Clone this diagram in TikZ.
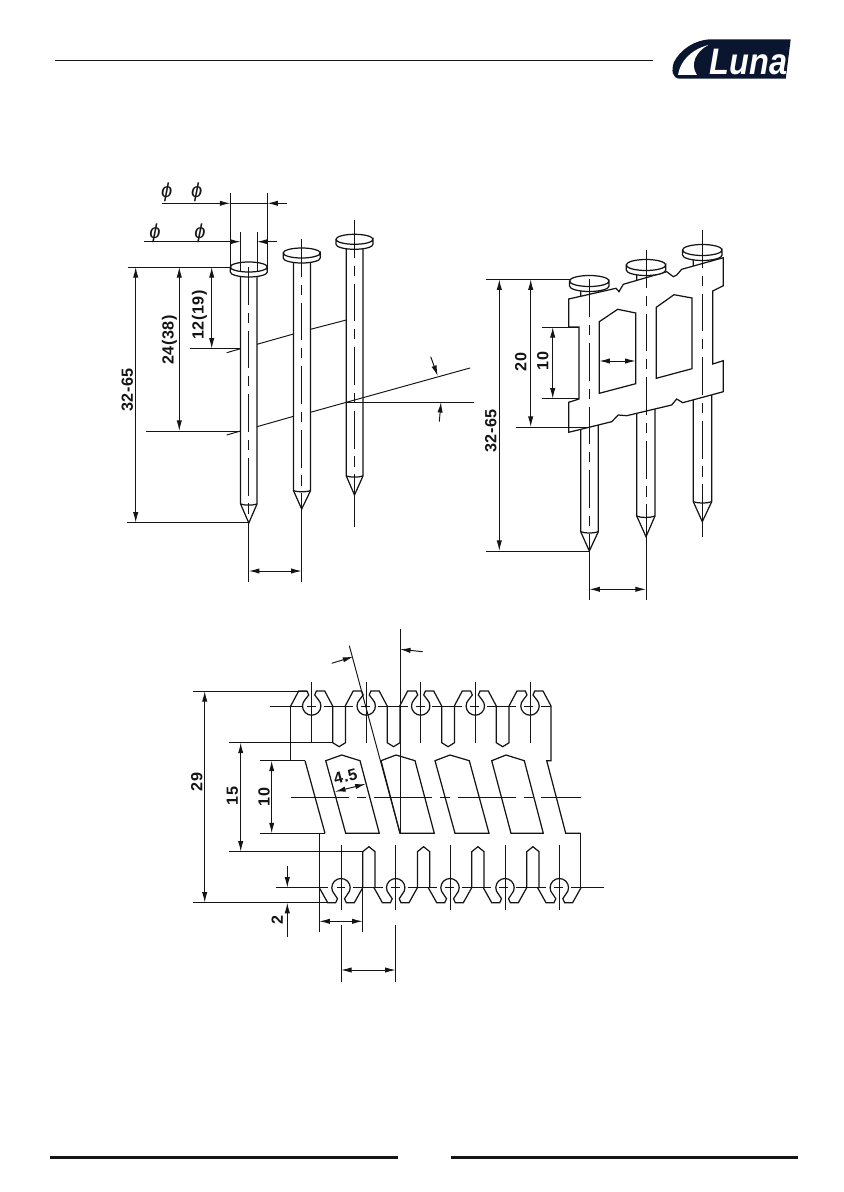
\documentclass[tikz,border=0pt]{standalone}
\usepackage{fontspec}
\usepackage{tikz}
\usetikzlibrary{arrows.meta}
\setmainfont{Liberation Sans}
\newfontfamily\sizefont[LetterSpace=4]{Liberation Sans}
\definecolor{lunanavy}{HTML}{0A1530}
\definecolor{ink}{HTML}{141414}
\tikzset{
  part/.style={draw=ink,line width=0.7pt,line join=miter},
  thinline/.style={draw=ink,line width=0.55pt},
  axis/.style={draw=ink,line width=0.55pt,dash pattern=on 21.5pt off 4.5pt on 5.7pt off 4.5pt},
  holeaxis/.style={draw=ink,line width=0.55pt,dash pattern=on 5.1pt off 4.5pt on 16.8pt off 4.5pt},
  dimline/.style={draw=ink,line width=0.55pt,>={Latex[length=6pt,width=3pt]}},
  sizelabel/.style={font=\sizefont\bfseries\fontsize{9.2}{10}\selectfont,text=ink,inner sep=0pt,rotate=90},
  dia/.style={font=\itshape\fontsize{11.5}{12}\selectfont,text=ink,inner sep=0pt}
}
\begin{document}
\begin{tikzpicture}[x=0.02cm,y=-0.02cm]
        \useasboundingbox (0,0) rectangle (843,1192);

        % header, footer, logo
        \draw[ink,line width=0.5pt] (55,60) -- (652.7,60);
        \fill[ink] (50,1155.6) rectangle (397.5,1159);
        \fill[ink] (450.7,1155.6) rectangle (798,1159);
        \fill[lunanavy] (790.7,39.3) -- (785.7,78.7) -- (680,78.7) .. controls (672,78.7) and (671,70) .. (674,62) .. controls (680,50) and (695,39.3) .. (712,39.3) -- cycle;
        \fill[white] (708.3,45) .. controls (690,50) and (680,62) .. (678,75) -- (697,75) .. controls (690,65) and (695,52) .. (708.3,45) -- cycle;
        \node [font=\bfseries\itshape\fontsize{21}{21}\selectfont,text=white,inner sep=0pt,xscale=0.88] (luna) at (748.5,62) {Luna};

        % left nails
        \draw[part] (240.6,272) -- (240.6,504) -- (248.8,523) -- (257,504) -- (257,272);
        \draw[part] (240.6,504) .. controls (245,505.5) and (252.6,505.5) .. (257,504);
        \draw[part,fill=white] (230.3,267) -- ++(0,5) arc[start angle=180,end angle=0,x radius=18.5,y radius=5] -- ++(0,-5) arc[start angle=0,end angle=180,x radius=18.5,y radius=5] arc[start angle=180,end angle=360,x radius=18.5,y radius=5];
        \draw[axis] (248.8,267) -- (248.8,523);
        \draw[part] (293.5,258) -- (293.5,490.7) -- (301.7,509) -- (310.5,490.7) -- (310.5,258);
        \draw[part] (293.5,490.7) .. controls (298,492.2) and (306,492.2) .. (310.5,490.7);
        \draw[part,fill=white] (283.2,253) -- ++(0,5) arc[start angle=180,end angle=0,x radius=18.5,y radius=5] -- ++(0,-5) arc[start angle=0,end angle=180,x radius=18.5,y radius=5] arc[start angle=180,end angle=360,x radius=18.5,y radius=5];
        \draw[axis] (301.7,239) -- (301.7,509);
        \draw[part] (346.3,244) -- (346.3,476) -- (354.5,495) -- (363,476) -- (363,244);
        \draw[part] (346.3,476) .. controls (351,477.5) and (358,477.5) .. (363,476);
        \draw[part,fill=white] (336,239.3) -- ++(0,5) arc[start angle=180,end angle=0,x radius=18.5,y radius=5] -- ++(0,-5) arc[start angle=0,end angle=180,x radius=18.5,y radius=5] arc[start angle=180,end angle=360,x radius=18.5,y radius=5];
        \draw[axis] (354.5,220) -- (354.5,495);

        % left nails, slanted rows
        \draw[thinline] (226.7,352.7) -- (240.6,348.7);
        \draw[thinline] (257,344.3) -- (293.5,334);
        \draw[thinline] (310.5,329.3) -- (346.3,320);
        \draw[thinline] (226.7,435) -- (240.6,431);
        \draw[thinline] (257,426.7) -- (293.5,416.3);
        \draw[thinline] (310.5,412.3) -- (346.3,402.3) -- (470,368);
        \draw[thinline] (346.3,402) -- (474,402);

        % left nails, sizes
        \draw[thinline] (230.3,193.3) -- (230.3,267);
        \draw[thinline] (267.3,193.3) -- (267.3,267);
        \draw[thinline] (240.6,232) -- (240.6,272);
        \draw[thinline] (257,232) -- (257,272);
        \draw[dimline,->] (162.3,203.3) -- (230.3,203.3);
        \draw[dimline,->] (287.3,203.3) -- (267.3,203.3);
        \draw[dimline] (230.3,203.3) -- (267.3,203.3);
        \draw[dimline,->] (144.3,241.7) -- (240.6,241.7);
        \draw[dimline,->] (277.3,241.7) -- (257,241.7);
        \node [dia] (d1) at (166.7,192.7) {ϕ};
        \node [dia] (d2) at (196.7,192.7) {ϕ};
        \node [dia] (d3) at (155,233.3) {ϕ};
        \node [dia] (d4) at (200,233.3) {ϕ};
        \draw[thinline] (127.7,267) -- (230.3,267);
        \draw[thinline] (126.7,522.7) -- (248.8,522.7);
        \draw[thinline] (146,431) -- (240.6,431);
        \draw[thinline] (190,348.7) -- (240.6,348.7);
        \draw[dimline,<->] (135.7,267) -- (135.7,522.7);
        \draw[dimline,<->] (179.3,267) -- (179.3,431);
        \draw[dimline,<->] (211.7,267) -- (211.7,348.7);
        \node [sizelabel] (l3265) at (127.3,390) {32-65};
        \node [sizelabel] (l2438) at (169.5,340) {24(38)};
        \node [sizelabel] (l1219) at (199.5,315) {12(19)};
        \draw[thinline] (248.8,523) -- (248.8,581.7);
        \draw[thinline] (301.7,509) -- (301.7,581.7);
        \draw[thinline] (354.5,495) -- (354.5,526.7);
        \draw[dimline,<->] (248.8,571) -- (301.7,571);
        \draw[dimline,->] (430.7,356.7) -- (437.7,376);
        \draw[dimline,->] (439.3,421.7) -- (441,402);

        % right nails
        \draw[part] (580.7,286) -- (580.7,531.7) -- (589.3,551) -- (598.3,531.7) -- (598.3,286);
        \draw[part] (580.7,531.7) .. controls (585,533.5) and (594,533.5) .. (598.3,531.7);
        \draw[part] (636.7,270) -- (636.7,516) -- (646,536.7) -- (655,516) -- (655,270);
        \draw[part] (636.7,516) .. controls (641,518) and (650,518) .. (655,516);
        \draw[part] (693.3,255) -- (693.3,501.7) -- (702.3,521.7) -- (711.7,501.7) -- (711.7,255);
        \draw[part] (693.3,501.7) .. controls (698,503.5) and (707,503.5) .. (711.7,501.7);

        % right nails, strip
        \draw[part,fill=white] (568.7,299) -- (616,288.3) -- (619,291.7) -- (623.3,284.3) -- (666.7,271.7) -- (673.3,276.7) -- (676.7,275) -- (681.7,269.3) -- (723.3,257.7) -- (723.3,285.7) -- (712.7,291) -- (712.7,364) -- (723.3,360.7) -- (723.3,391.7) -- (682.7,402.7) -- (676.7,399) -- (671.7,405) -- (626.7,415.7) -- (618.3,415) -- (611.7,421.7) -- (568.7,432.3) -- (568.7,402.3) -- (579,399) -- (579,327) -- (568.7,327) -- cycle;
        \draw[part] (599.3,393.3) -- (599.3,321.7) -- (617.7,309.3) -- (635.7,313) -- (635.7,383.7) -- cycle;
        \draw[part] (656.3,378.3) -- (656.3,307.3) -- (674,294.7) -- (692,298) -- (692,368.7) -- cycle;
        \draw[part,fill=white] (569.5,281) -- ++(0,5) arc[start angle=180,end angle=0,x radius=19.8,y radius=5.5] -- ++(0,-5) arc[start angle=0,end angle=180,x radius=19.8,y radius=5.5] arc[start angle=180,end angle=360,x radius=19.8,y radius=5.5];
        \draw[part,fill=white] (626.2,265) -- ++(0,5) arc[start angle=180,end angle=0,x radius=19.8,y radius=5.5] -- ++(0,-5) arc[start angle=0,end angle=180,x radius=19.8,y radius=5.5] arc[start angle=180,end angle=360,x radius=19.8,y radius=5.5];
        \draw[part,fill=white] (682.5,250) -- ++(0,5) arc[start angle=180,end angle=0,x radius=19.8,y radius=5.5] -- ++(0,-5) arc[start angle=0,end angle=180,x radius=19.8,y radius=5.5] arc[start angle=180,end angle=360,x radius=19.8,y radius=5.5];
        \draw[axis] (589.3,279.3) -- (589.3,551);
        \draw[axis] (646,250) -- (646,536.7);
        \draw[axis] (702.3,230) -- (702.3,521.7);

        % right nails, sizes
        \draw[thinline] (485.7,279.3) -- (569.5,279.3);
        \draw[thinline] (486,551) -- (589.3,551);
        \draw[thinline] (516,427) -- (589.3,427);
        \draw[thinline] (542.3,327) -- (579,327);
        \draw[thinline] (542.3,398.7) -- (579,398.7);
        \draw[dimline,<->] (499.3,279.3) -- (499.3,551);
        \draw[dimline,<->] (530.7,279.3) -- (530.7,427);
        \draw[dimline,<->] (552.7,327) -- (552.7,398.7);
        \draw[dimline,<->] (599.3,361) -- (635.7,361);
        \node [sizelabel] (r3265) at (490.7,431) {32-65};
        \node [sizelabel] (r20) at (520.7,361.7) {20};
        \node [sizelabel] (r10) at (542.7,361) {10};
        \draw[thinline] (589.3,551) -- (589.3,600);
        \draw[thinline] (646,536.7) -- (646,600);
        \draw[thinline] (702.3,521.7) -- (702.3,536.7);
        \draw[dimline,<->] (589.3,589.3) -- (646,589.3);

        % strip seen flat, top row
        \coordinate (H1) at (311.7,706);
        \coordinate (H2) at (366.2,706);
        \coordinate (H3) at (420.7,706);
        \coordinate (H4) at (475.3,706);
        \coordinate (H5) at (530,706);
        \draw[part] (H1) ++(-21,0) -- ++(8,-15) -- ++(8.3,0) -- ++(1.7,4) -- ++(-3.5,4.5) arc[start angle=225,end angle=-45,radius=9.2] -- ++(-3.5,-4.5) -- ++(1.7,-4) -- ++(8.3,0) -- ++(8,15);
        \draw[part] (H2) ++(-21,0) -- ++(8,-15) -- ++(8.3,0) -- ++(1.7,4) -- ++(-3.5,4.5) arc[start angle=225,end angle=-45,radius=9.2] -- ++(-3.5,-4.5) -- ++(1.7,-4) -- ++(8.3,0) -- ++(8,15);
        \draw[part] (H3) ++(-21,0) -- ++(8,-15) -- ++(8.3,0) -- ++(1.7,4) -- ++(-3.5,4.5) arc[start angle=225,end angle=-45,radius=9.2] -- ++(-3.5,-4.5) -- ++(1.7,-4) -- ++(8.3,0) -- ++(8,15);
        \draw[part] (H4) ++(-21,0) -- ++(8,-15) -- ++(8.3,0) -- ++(1.7,4) -- ++(-3.5,4.5) arc[start angle=225,end angle=-45,radius=9.2] -- ++(-3.5,-4.5) -- ++(1.7,-4) -- ++(8.3,0) -- ++(8,15);
        \draw[part] (H5) ++(-21,0) -- ++(8,-15) -- ++(8.3,0) -- ++(1.7,4) -- ++(-3.5,4.5) arc[start angle=225,end angle=-45,radius=9.2] -- ++(-3.5,-4.5) -- ++(1.7,-4) -- ++(8.3,0) -- ++(8,15);
        \draw[part] (H1) ++(21,0) -- ++(0,36.7) -- ++(6.4,4) -- ++(6.4,-4) -- ++(0,-36.7);
        \draw[part] (H2) ++(21,0) -- ++(0,36.7) -- ++(6.4,4) -- ++(6.4,-4) -- ++(0,-36.7);
        \draw[part] (H3) ++(21,0) -- ++(0,36.7) -- ++(6.4,4) -- ++(6.4,-4) -- ++(0,-36.7);
        \draw[part] (H4) ++(21,0) -- ++(0,36.7) -- ++(6.4,4) -- ++(6.4,-4) -- ++(0,-36.7);
        \draw[part] (290.7,706) -- (290.7,760.7);
        \draw[part] (551,706) -- (551,760.7) -- (546.7,760.7) -- (565.7,833.3) -- (580.7,833.3);
        \draw[thinline] (270,706) -- (303,706);
        \draw[holeaxis] (307,706) -- (551,706);
        \draw[thinline] (H1) ++(0,-24) -- ++(0,60.7);
        \draw[thinline] (H2) ++(0,-24) -- ++(0,60.7);
        \draw[thinline] (H3) ++(0,-24) -- ++(0,60.7);
        \draw[thinline] (H4) ++(0,-24) -- ++(0,60.7);
        \draw[thinline] (H5) ++(0,-24) -- ++(0,60.7);

        % strip seen flat, windows
        \draw[part] (305,760.7) -- (325,833.3);
        \draw[part] (325.7,760.7) -- (341.7,755) -- (360,760.7) -- (379.3,833.3) -- (345.7,833.3) -- cycle;
        \draw[part] (381,760.7) -- (396,755) -- (415,760.7) -- (434.3,833.3) -- (400,833.3) -- cycle;
        \draw[part] (435,760.7) -- (450,755) -- (469.3,760.7) -- (489,833.3) -- (455,833.3) -- cycle;
        \draw[part] (491.7,760.7) -- (506,755) -- (524.3,760.7) -- (543.3,833.3) -- (511,833.3) -- cycle;
        \draw[thinline,dash pattern=on 33pt off 4.5pt on 5.5pt off 4.5pt] (290.7,797.3) -- (581,797.3);

        % strip seen flat, bottom row
        \coordinate (B1) at (341,887.7);
        \coordinate (B2) at (395.7,887.7);
        \coordinate (B3) at (450,887.7);
        \coordinate (B4) at (505,887.7);
        \coordinate (B5) at (559.3,887.7);
        \draw[part] (B1) ++(-21.7,0) -- ++(8.4,15) -- ++(8,0) -- ++(1.8,-4) -- ++(-3,-4.5) arc[start angle=135,end angle=405,radius=9.2] -- ++(-3,4.5) -- ++(1.8,4) -- ++(8,0) -- ++(8.4,-15);
        \draw[part] (B2) ++(-21.7,0) -- ++(8.4,15) -- ++(8,0) -- ++(1.8,-4) -- ++(-3,-4.5) arc[start angle=135,end angle=405,radius=9.2] -- ++(-3,4.5) -- ++(1.8,4) -- ++(8,0) -- ++(8.4,-15);
        \draw[part] (B3) ++(-21.7,0) -- ++(8.4,15) -- ++(8,0) -- ++(1.8,-4) -- ++(-3,-4.5) arc[start angle=135,end angle=405,radius=9.2] -- ++(-3,4.5) -- ++(1.8,4) -- ++(8,0) -- ++(8.4,-15);
        \draw[part] (B4) ++(-21.7,0) -- ++(8.4,15) -- ++(8,0) -- ++(1.8,-4) -- ++(-3,-4.5) arc[start angle=135,end angle=405,radius=9.2] -- ++(-3,4.5) -- ++(1.8,4) -- ++(8,0) -- ++(8.4,-15);
        \draw[part] (B5) ++(-21.7,0) -- ++(8.4,15) -- ++(8,0) -- ++(1.8,-4) -- ++(-3,-4.5) arc[start angle=135,end angle=405,radius=9.2] -- ++(-3,4.5) -- ++(1.8,4) -- ++(8,0) -- ++(8.4,-15);
        \draw[part] (B1) ++(21.7,0) -- ++(0,-36) -- ++(6.2,-5) -- ++(6.2,5) -- ++(0,36);
        \draw[part] (B2) ++(21.7,0) -- ++(0,-36) -- ++(6.2,-5) -- ++(6.2,5) -- ++(0,36);
        \draw[part] (B3) ++(21.7,0) -- ++(0,-36) -- ++(6.2,-5) -- ++(6.2,5) -- ++(0,36);
        \draw[part] (B4) ++(21.7,0) -- ++(0,-36) -- ++(6.2,-5) -- ++(6.2,5) -- ++(0,36);
        \draw[part] (319.3,833.3) -- (319.3,887.7);
        \draw[part] (580.7,833.3) -- (580.7,887.7);
        \draw[thinline] (276,887.7) -- (328,887.7);
        \draw[holeaxis] (336.5,887.7) -- (581,887.7);
        \draw[part] (581,887.7) -- (604,887.7);
        \draw[thinline] (B1) ++(0,-42.7) -- ++(0,65);
        \draw[thinline] (B2) ++(0,-42.7) -- ++(0,65);
        \draw[thinline] (B3) ++(0,-42.7) -- ++(0,65);
        \draw[thinline] (B4) ++(0,-42.7) -- ++(0,65);
        \draw[thinline] (B5) ++(0,-42.7) -- ++(0,65);

        % strip seen flat, sizes
        \draw[thinline] (193.3,691) -- (306.7,691);
        \draw[thinline] (193.3,902.7) -- (327.7,902.7);
        \draw[thinline] (229.3,742.7) -- (332.7,742.7);
        \draw[thinline] (229.3,851.7) -- (362.7,851.7);
        \draw[thinline] (260,760.7) -- (305,760.7);
        \draw[thinline] (260,833.3) -- (325,833.3);
        \draw[dimline,<->] (204.7,691) -- (204.7,902.7);
        \draw[dimline,<->] (240.7,742.7) -- (240.7,851.7);
        \draw[dimline,<->] (271.7,760.7) -- (271.7,833.3);
        \node [sizelabel] (s29) at (196.7,782) {29};
        \node [sizelabel] (s15) at (232.3,796) {15};
        \node [sizelabel] (s10) at (264,796.7) {10};
        \draw[dimline,<->] (335,791.7) -- (365.7,784);
        \node [sizelabel,rotate=-75] (s45) at (345.5,776.5) {4.5};
        \draw[thinline] (349.3,645.7) -- (400,833.3);
        \draw[thinline] (400,629.3) -- (400,833.3);
        \draw[dimline,->] (331.7,663.3) -- (353.3,656.7);
        \draw[dimline,->] (422.7,651.7) -- (400,649.3);
        \draw[thinline] (276,902.7) -- (327.7,902.7);
        \draw[dimline,->] (287.3,866) -- (287.3,887.7);
        \draw[dimline,->] (287.3,936.7) -- (287.3,902.7);
        \node [sizelabel] (s2) at (277.3,920) {2};
        \draw[thinline] (319.3,887.7) -- (319.3,931.7);
        \draw[thinline] (362.7,887.7) -- (362.7,931.7);
        \draw[dimline,<->] (319.3,921.3) -- (362.7,921.3);
        \draw[thinline] (341,925) -- (341,981.7);
        \draw[thinline] (395.7,925) -- (395.7,981.7);
        \draw[dimline,<->] (341,970) -- (395.7,970);
\end{tikzpicture}
\end{document}
